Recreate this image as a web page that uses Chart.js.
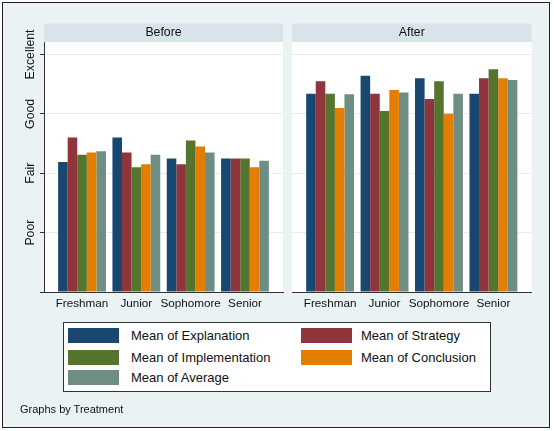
<!DOCTYPE html>
<html>
<head>
<meta charset="utf-8">
<script src="https://cdn.jsdelivr.net/npm/chart.js@4.4.1/dist/chart.umd.min.js"></script>
<style>
html,body{margin:0;padding:0;background:#fff;width:554px;height:431px;overflow:hidden;font-family:"Liberation Sans",Arial,sans-serif;}
#frame{position:absolute;left:2px;top:2px;width:548px;height:426px;box-sizing:border-box;border:1.5px solid #222;background:#EAF2F3;}
canvas{position:absolute;left:0;top:0;}
#legend{position:absolute;left:63px;top:322px;width:428px;height:70px;box-sizing:border-box;border:1px solid #333;background:#fff;}
.item{position:absolute;height:15px;font-size:13px;color:#111;}
.sw{position:absolute;left:0;top:0;width:51px;height:15px;}
.lab{position:absolute;top:0;line-height:15px;white-space:nowrap;}
#note{position:absolute;left:20px;top:402px;font-size:11px;color:#111;line-height:14px;}
</style>
</head>
<body>
<div id="frame"></div>
<canvas id="left" width="554" height="431"></canvas>
<canvas id="right" width="554" height="431"></canvas>
<div id="legend"></div>
<div id="note">Graphs by Treatment</div>
<script>
// ---- data ----
const categories = ['Freshman', 'Junior', 'Sophomore', 'Senior'];
const panelTitles = ['Before', 'After'];
const seriesNames = ['Mean of Explanation', 'Mean of Strategy', 'Mean of Implementation', 'Mean of Conclusion', 'Mean of Average'];
const seriesColors = ['#1A476F', '#90353B', '#55752F', '#E37E00', '#6E8E84'];
const yTickValues = [0, 1, 2, 3, 4];
const yTickLabels = ['', 'Poor', 'Fair', 'Good', 'Excellent'];

const beforeExplanation    = [2.19, 2.60, 2.25, 2.25];
const beforeStrategy       = [2.60, 2.35, 2.15, 2.25];
const beforeImplementation = [2.31, 2.10, 2.55, 2.25];
const beforeConclusion     = [2.35, 2.15, 2.45, 2.10];
const beforeAverage        = [2.37, 2.31, 2.35, 2.21];

const afterExplanation     = [3.34, 3.64, 3.60, 3.34];
const afterStrategy        = [3.55, 3.34, 3.25, 3.60];
const afterImplementation  = [3.34, 3.05, 3.55, 3.75];
const afterConclusion      = [3.10, 3.40, 3.00, 3.60];
const afterAverage         = [3.33, 3.36, 3.34, 3.57];

const beforeSeries = [beforeExplanation, beforeStrategy, beforeImplementation, beforeConclusion, beforeAverage];
const afterSeries  = [afterExplanation, afterStrategy, afterImplementation, afterConclusion, afterAverage];

// ---- drawing ----
const FONT = '"Liberation Sans", Arial, sans-serif';
const INK = '#111';
const AXIS = '#333';
const GRID = '#E4ECEF';

const panelPlugin = {
  id: 'panel',
  beforeDraw(chart, args, opts) {
    const {ctx, chartArea: a} = chart;
    ctx.save();
    ctx.fillStyle = '#ffffff';
    ctx.fillRect(a.left, a.top, a.right - a.left, a.bottom - a.top);
    ctx.fillStyle = '#D8E3EA';
    ctx.fillRect(a.left, a.top - 18.5, a.right - a.left, 18.5);
    ctx.fillStyle = INK;
    ctx.font = '12.3px ' + FONT;
    ctx.textAlign = 'center';
    ctx.textBaseline = 'middle';
    ctx.fillText(opts.text, (a.left + a.right) / 2, a.top - 9);
    ctx.restore();
  }
};

// y label padding so the rotated labels center at ~30px
const mc = document.createElement('canvas').getContext('2d');
mc.font = '12.3px ' + FONT;
const widestY = Math.max(...yTickLabels.map(t => mc.measureText(t).width));
const yPad = 44 - 4 - widestY / 2 - 30.5;

function makePanel(id, title, series, showY, padLeft, padRight) {
  const datasets = series.map((vals, i) => ({
    label: seriesNames[i],
    data: vals.map((v, j) => ({x: j, y: v})),
    backgroundColor: seriesColors[i],
    borderWidth: 0,
    categoryPercentage: 0.88,
    barPercentage: 1.0
  }));
  return new Chart(document.getElementById(id), {
    type: 'bar',
    data: {datasets},
    plugins: [panelPlugin],
    options: {
      responsive: false,
      animation: false,
      devicePixelRatio: 1,
      layout: {padding: {left: padLeft, right: padRight, top: 42, bottom: 111}},
      plugins: {legend: {display: false}, tooltip: {enabled: false}, panel: {text: title}},
      scales: {
        x: {
          type: 'linear',
          offset: false,
          min: -0.7, max: 3.7,
          afterBuildTicks: s => { s.ticks = categories.map((c, i) => ({value: i})); },
          afterFit: s => { s.height = 28; },
          grid: {display: false, drawTicks: false, offset: false},
          border: {display: true, color: AXIS, width: 1},
          ticks: {
            autoSkip: false, maxRotation: 0, padding: 5,
            color: INK, font: {family: FONT, size: 11.7},
            callback: (v, i) => categories[i]
          }
        },
        y: {
          min: 0, max: 4.21,
          afterBuildTicks: s => { s.ticks = yTickValues.map(v => ({value: v})); },
          afterFit: s => { s.width = showY ? 44 : 0; },
          grid: {display: true, color: GRID, lineWidth: 1, drawTicks: showY, tickLength: 4, tickColor: AXIS},
          border: {display: showY, color: AXIS, width: 1},
          ticks: {
            display: showY, autoSkip: false,
            minRotation: 90, maxRotation: 90,
            crossAlign: 'center', padding: yPad,
            color: INK, font: {family: FONT, size: 12.3},
            callback: (v, i) => yTickLabels[i]
          }
        }
      }
    }
  });
}

makePanel('left', panelTitles[0], beforeSeries, true, 0, 271);
makePanel('right', panelTitles[1], afterSeries, false, 292, 22.5);

// legend (row-wise, two columns)
const legend = document.getElementById('legend');
const colSw = [4, 237], colLab = [63, 60], rowTop = [5, 26.5, 47];
seriesNames.forEach((name, i) => {
  const col = i % 2, row = Math.floor(i / 2);
  const it = document.createElement('div');
  it.className = 'item';
  it.style.left = colSw[col] + 'px';
  it.style.top = rowTop[row] + 'px';
  const sw = document.createElement('div');
  sw.className = 'sw';
  sw.style.background = seriesColors[i];
  const lab = document.createElement('div');
  lab.className = 'lab';
  lab.style.left = colLab[col] + 'px';
  lab.textContent = name;
  it.appendChild(sw); it.appendChild(lab);
  legend.appendChild(it);
});
</script>
</body>
</html>
